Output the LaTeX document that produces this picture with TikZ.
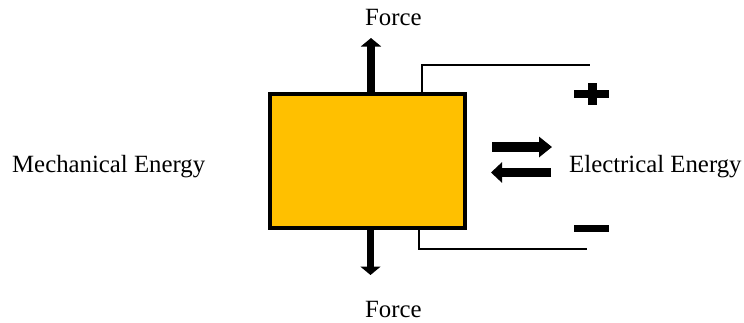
\documentclass[tikz,border=0pt]{standalone}
\usepackage{fontspec}
\setmainfont{Liberation Serif}
\usetikzlibrary{arrows.meta}
\definecolor{boxfill}{HTML}{FFC000}
\tikzset{
  lbl/.style={anchor=base west, inner sep=0pt, font=\fontsize{24.8}{29}\selectfont},
  forcearrow/.style={line width=7.5pt, -{Triangle[width=20pt,length=8.5pt]}},
  wire/.style={line width=1.3pt},
  bar/.style={fill=black, draw=none},
}
\begin{document}
\begin{tikzpicture}[x=1pt,y=-1pt]
\useasboundingbox (0,0) rectangle (744,322);
% main box
\node[draw=black, fill=boxfill, line width=4.5pt, minimum width=195pt, minimum height=134pt, inner sep=0pt] (box) at (367.5,161) {};
% force arrows
\coordinate (ftop) at (371,38);
\coordinate (fbot) at (370.5,275);
\draw[forcearrow] (box.north -| ftop) ++(0,2) -- (ftop);
\draw[forcearrow] (box.south -| fbot) ++(0,-2) -- (fbot);
% wires
\coordinate (wtop) at (590,65);
\coordinate (wbot) at (587,249);
\draw[wire] (box.north -| 422,0) ++(0,2) |- (wtop);
\draw[wire] (box.south -| 419,0) ++(0,-2) |- (wbot);
% exchange arrows
\coordinate (ra1) at (492,147);
\coordinate (ra2) at (552,147);
\coordinate (la1) at (551,172.5);
\coordinate (la2) at (491,172.5);
\draw[line width=10pt, -{Triangle[width=20pt,length=13pt]}] (ra1) -- (ra2);
\draw[line width=9pt, -{Triangle[width=20pt,length=11pt]}] (la1) -- (la2);
% plus and minus
\fill[bar] (574,89.5) rectangle (609,97.5);
\fill[bar] (587.5,83) rectangle (596.5,105);
\fill[bar] (574,225) rectangle (609,232);
% labels
\node[lbl] (ftoplbl) at (365,25) {Force};
\node[lbl] (fbotlbl) at (365,317) {Force};
\node[lbl] (mech) at (12,172) {Mechanical Energy};
\node[lbl] (elec) at (569,172) {Electrical Energy};
\end{tikzpicture}
\end{document}
